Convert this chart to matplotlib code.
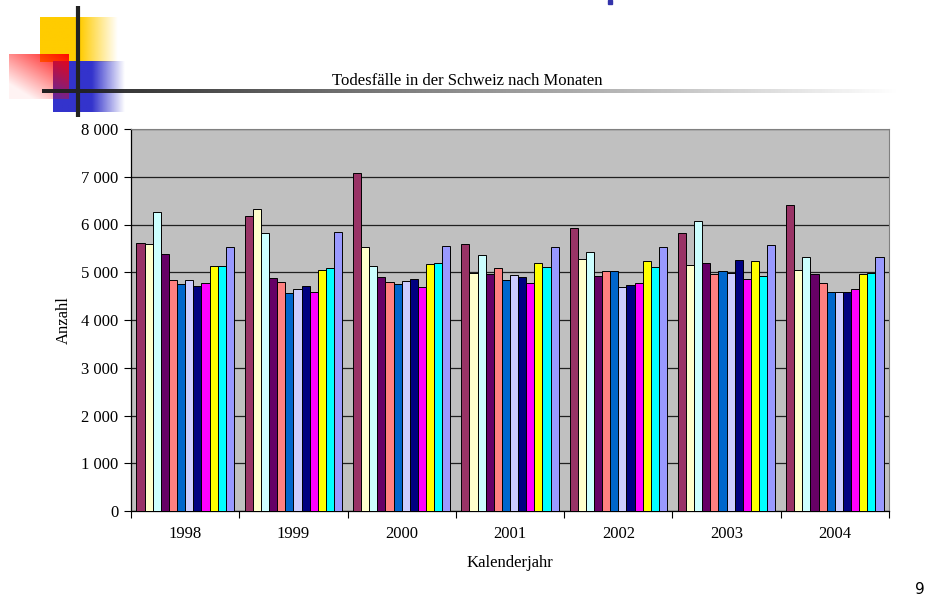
import numpy as np
import matplotlib.pyplot as plt
from matplotlib.ticker import FuncFormatter

years = ['1998', '1999', '2000', '2001', '2002', '2003', '2004']
months = ['Jan', 'Feb', 'Mär', 'Apr', 'Mai', 'Jun', 'Jul', 'Aug', 'Sep', 'Okt', 'Nov', 'Dez']
colors = ['#993366', '#FFFFCC', '#CCFFFF', '#660066', '#FF8080', '#0066CC',
          '#CCCCFF', '#000080', '#FF00FF', '#FFFF00', '#00FFFF', '#9999FF']

# deaths per month, one row per year
d1998 = [5610, 5590, 6260, 5385, 4846, 4748, 4846, 4720, 4769, 5126, 5126, 5524]
d1999 = [6175, 6322, 5832, 4874, 4790, 4559, 4650, 4706, 4594, 5049, 5084, 5846]
d2000 = [7084, 5524, 5140, 4902, 4804, 4755, 4811, 4860, 4692, 5175, 5196, 5545]
d2001 = [5587, 4986, 5371, 4958, 5098, 4832, 4951, 4895, 4783, 5189, 5105, 5524]
d2002 = [5930, 5287, 5434, 4916, 5028, 5035, 4699, 4741, 4783, 5238, 5112, 5524]
d2003 = [5825, 5161, 6070, 5189, 4965, 5035, 4986, 5252, 4853, 5231, 4916, 5566]
d2004 = [6406, 5042, 5315, 4958, 4776, 4580, 4594, 4594, 4643, 4958, 4986, 5329]
data = np.array([d1998, d1999, d2000, d2001, d2002, d2003, d2004])

W, H = 943, 613
fig = plt.figure(figsize=(W / 100, H / 100), dpi=100)
serif = 'Liberation Serif'

# slide decoration (pixel coordinates)
deco = fig.add_axes([0, 0, 1, 1], zorder=0)
deco.set_xlim(0, W)
deco.set_ylim(H, 0)
deco.axis('off')


def hfade(rgb, x0, x1, y0, y1, start):
    n = 300
    xs = np.linspace(x0, x1, n)
    a = np.clip((x1 - xs) / (x1 - start), 0, 1)
    img = np.zeros((2, n, 4))
    img[..., :3] = rgb
    img[..., 3] = a
    deco.imshow(img, extent=[x0, x1, y1, y0], aspect='auto', interpolation='bilinear')


hfade((1.0, 0.8, 0.0), 40, 118, 17, 62, 80)
hfade((0.2, 0.2, 0.8), 53, 125, 61, 112, 92)
n = 120
gx, gy = np.meshgrid(np.linspace(0, 1, n), np.linspace(0, 1, n))
red = np.zeros((n, n, 4))
red[..., 0] = 1.0
red[..., 3] = np.clip(0.95 - 0.5 * (1 - gx) - 0.6 * gy, 0.05, 1)
deco.imshow(red, extent=[9, 69, 99, 54], aspect='auto', interpolation='bilinear')
deco.plot([78, 78], [6, 117], color='#222222', lw=3, solid_capstyle='butt')
line = np.ones((2, 400, 4))
line[..., :3] = 0.13
line[..., 3] = np.clip(1 - np.linspace(0, 1, 400), 0, 1)
deco.imshow(line, extent=[42, 900, 93, 89], aspect='auto', interpolation='bilinear')
deco.add_patch(plt.Rectangle((608, 0), 4, 4, color='#3333AA'))

fig.text(467 / W, 1 - 81 / H, 'Todesfälle in der Schweiz nach Monaten', ha='center',
         va='center', fontsize=12, family=serif)
fig.text(920 / W, 1 - 589 / H, '9', ha='center', va='center', fontsize=11,
         family='DejaVu Sans')

ax = fig.add_axes([131 / W, 1 - 511 / H, 758 / W, 382 / H], zorder=1)
ax.set_facecolor('#C0C0C0')

x = np.arange(len(years))
bw = 0.9 / len(months)
for i, m in enumerate(months):
    ax.bar(x - 0.45 + bw * (i + 0.5), data[:, i], width=bw, color=colors[i],
           edgecolor='black', linewidth=0.7, label=m, zorder=3)

ax.set_xlim(-0.5, len(years) - 0.5)
ax.set_ylim(0, 8000)
ax.set_yticks(np.arange(0, 8001, 1000))
ax.yaxis.set_major_formatter(FuncFormatter(lambda v, p: f'{int(v):,}'.replace(',', ' ')))
ax.grid(axis='y', color='#202020', linewidth=0.9, zorder=1)
ax.set_xticks(np.arange(-0.5, len(years), 1))
ax.set_xticklabels([])
ax.set_xticks(x, minor=True)
ax.set_xticklabels(years, minor=True)
ax.tick_params(axis='x', which='minor', length=0, pad=11)
ax.tick_params(axis='x', which='major', length=5, width=0.8, direction='out')
ax.tick_params(axis='y', length=5, width=0.8, direction='out', pad=4)
for lab in ax.get_xticklabels(minor=True) + ax.get_yticklabels():
    lab.set_family(serif)
    lab.set_fontsize(12)
ax.spines['top'].set_color('#808080')
ax.spines['right'].set_color('#808080')
for s in ['left', 'bottom']:
    ax.spines[s].set_linewidth(0.9)
ax.set_xlabel('Kalenderjahr', family=serif, fontsize=12, labelpad=9)
ax.set_ylabel('Anzahl', family=serif, fontsize=12, labelpad=7)

fig.savefig('out.png', dpi=100)
